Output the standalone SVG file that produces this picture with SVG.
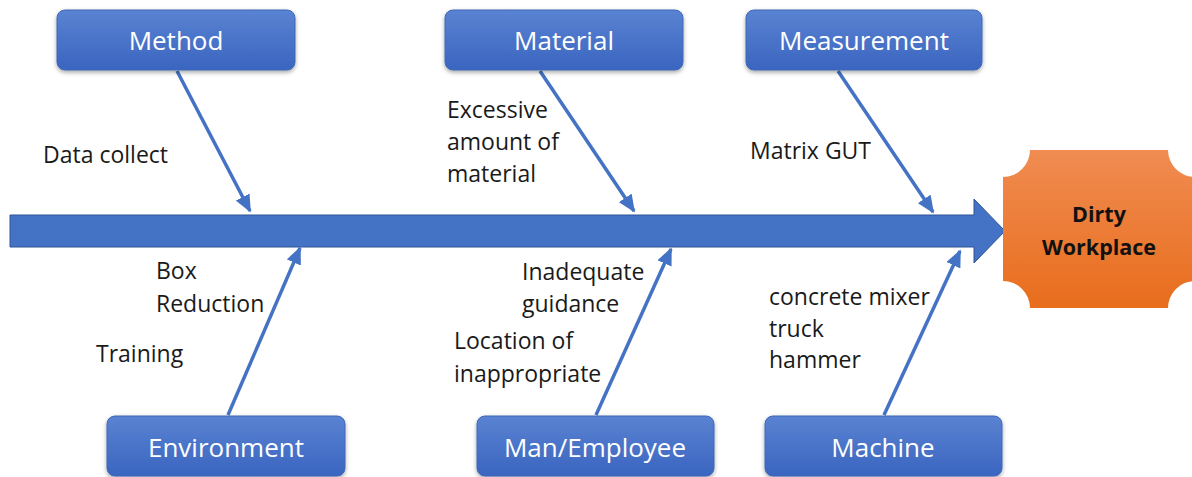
<svg xmlns="http://www.w3.org/2000/svg" width="1192" height="477" viewBox="0 0 1192 477">
<style>
.box{fill:url(#gBlue);stroke:#3f68b5;stroke-width:1}
.bl{font-family:"Open Sans","Liberation Sans",sans-serif;font-size:26px;fill:#ffffff;text-anchor:middle}
.lbl{font-family:"Open Sans","Liberation Sans",sans-serif;font-size:23px;fill:#1a1a1a}
.con{stroke:#4472c4;stroke-width:3.5;fill:none;marker-end:url(#ah)}
.eff{font-family:"Open Sans","Liberation Sans",sans-serif;font-size:21.5px;font-weight:bold;fill:#111;text-anchor:middle}
</style>
<defs>
<linearGradient id="gBlue" x1="0" y1="0" x2="0" y2="1">
<stop offset="0" stop-color="#5a83d2"/>
<stop offset="1" stop-color="#3a65c0"/>
</linearGradient>
<linearGradient id="gOrange" x1="0" y1="0" x2="0" y2="1">
<stop offset="0" stop-color="#f08c52"/>
<stop offset="1" stop-color="#e86d1c"/>
</linearGradient>
<filter id="sh" x="-10%" y="-20%" width="120%" height="150%">
<feDropShadow dx="0" dy="2" stdDeviation="2" flood-color="#000" flood-opacity="0.35"/>
</filter>
<marker id="ah" markerWidth="5" markerHeight="4.4" refX="4.5" refY="2.2" orient="auto" markerUnits="strokeWidth">
<path d="M0,0 L5,2.2 L0,4.4 Z" fill="#4472c4"/>
</marker>
</defs>

<g id="spine">
<path d="M10,215 L974,215 L974,199 L1005,231 L974,263 L974,247 L10,247 Z" fill="#4472c4" stroke="#2f5597" stroke-width="1"/>
</g>

<g id="connectors">
<line class="con" x1="177" y1="71" x2="250" y2="211"/>
<line class="con" x1="540" y1="71" x2="634" y2="211"/>
<line class="con" x1="838" y1="71" x2="933" y2="212"/>
<line class="con" x1="228" y1="415" x2="300" y2="248"/>
<line class="con" x1="596" y1="415" x2="671" y2="249"/>
<line class="con" x1="884" y1="415" x2="960" y2="251"/>
</g>

<g id="effect">
<path d="M1030,150 L1168,150 A27,27 0 0 0 1195,177 L1195,281 A27,27 0 0 0 1168,308 L1030,308 A27,27 0 0 0 1003,281 L1003,177 A27,27 0 0 0 1030,150 Z" fill="url(#gOrange)"/>
<text class="eff" x="1099" y="222">Dirty</text>
<text class="eff" x="1099" y="255">Workplace</text>
</g>

<g id="method">
<rect class="box" x="57" y="10" width="238" height="60" rx="8" filter="url(#sh)"/>
<text class="bl" x="176" y="50">Method</text>
</g>
<g id="material">
<rect class="box" x="445" y="10" width="238" height="60" rx="8" filter="url(#sh)"/>
<text class="bl" x="564" y="50">Material</text>
</g>
<g id="measurement">
<rect class="box" x="746" y="10" width="236" height="60" rx="8" filter="url(#sh)"/>
<text class="bl" x="864" y="50">Measurement</text>
</g>
<g id="environment">
<rect class="box" x="107" y="416" width="238" height="60" rx="8" filter="url(#sh)"/>
<text class="bl" x="226" y="457">Environment</text>
</g>
<g id="man-employee">
<rect class="box" x="477" y="416" width="237" height="60" rx="8" filter="url(#sh)"/>
<text class="bl" x="595" y="457">Man/Employee</text>
</g>
<g id="machine">
<rect class="box" x="765" y="416" width="237" height="60" rx="8" filter="url(#sh)"/>
<text class="bl" x="883" y="457">Machine</text>
</g>

<g id="labels">
<text class="lbl" x="43" y="163">Data collect</text>
<text class="lbl" x="447" y="118">Excessive</text>
<text class="lbl" x="447" y="150">amount of</text>
<text class="lbl" x="447" y="182">material</text>
<text class="lbl" x="750" y="159">Matrix GUT</text>
<text class="lbl" x="156" y="279">Box</text>
<text class="lbl" x="156" y="312">Reduction</text>
<text class="lbl" x="96" y="362">Training</text>
<text class="lbl" x="522" y="280">Inadequate</text>
<text class="lbl" x="522" y="312">guidance</text>
<text class="lbl" x="454" y="349">Location of</text>
<text class="lbl" x="454" y="382">inappropriate</text>
<text class="lbl" x="769" y="305">concrete mixer</text>
<text class="lbl" x="769" y="337">truck</text>
<text class="lbl" x="769" y="368">hammer</text>
</g>
</svg>
